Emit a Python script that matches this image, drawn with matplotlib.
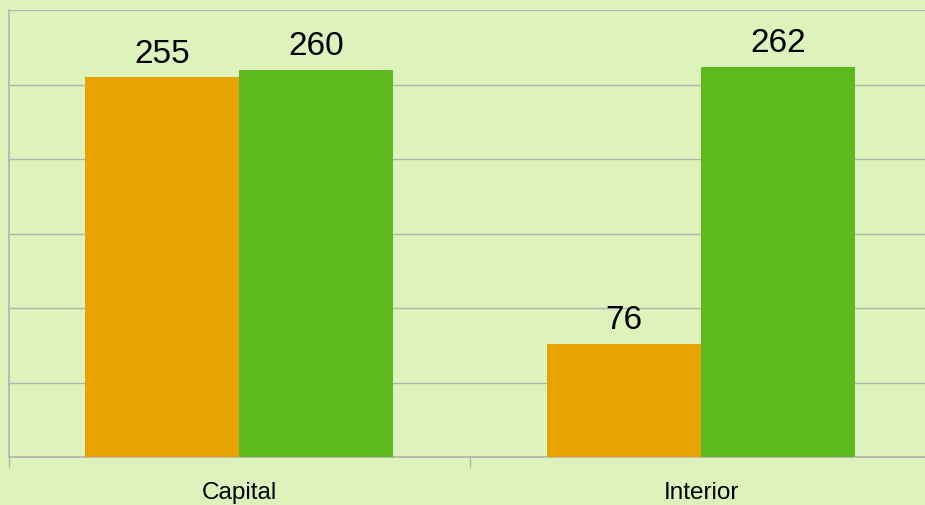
import matplotlib.pyplot as plt
import numpy as np

# data
categories = ["Capital", "Interior"]
series_a = [255, 76]
series_b = [260, 262]

bg = "#def2bc"
grid_col = "#b3b3b3"
col_a = "#e8a202"
col_b = "#5eb91f"

plt.rcParams["font.family"] = ["Liberation Sans", "DejaVu Sans"]

fig = plt.figure(figsize=(9.25, 5.06), dpi=100, facecolor=bg)
# axes runs off the right edge like the original
ax = fig.add_axes([8.5 / 925, 48 / 506, 923.5 / 925, 447 / 506])
ax.set_facecolor(bg)

x = np.arange(len(categories))
w = 1 / 3
bars_a = ax.bar(x - w / 2, series_a, w, color=col_a, zorder=3)
bars_b = ax.bar(x + w / 2, series_b, w, color=col_b, zorder=3)

for bars in (bars_a, bars_b):
    for b in bars:
        ax.annotate(f"{b.get_height():g}", (b.get_x() + b.get_width() / 2, b.get_height()),
                    xytext=(0, 6), textcoords="offset points",
                    ha="center", va="bottom", fontsize=24, color="black")

ax.set_xlim(-0.5, len(categories) - 0.5)
ax.set_ylim(0, 300)
ax.set_yticks(np.arange(0, 301, 50))
ax.yaxis.grid(True, color=grid_col, linewidth=1.0, zorder=0)
ax.tick_params(axis="y", length=0, labelleft=False)

ax.set_xticks(x)
ax.set_xticklabels(categories, fontsize=17.5)
ax.set_xticks(np.arange(-0.5, len(categories), 1), minor=True)
ax.tick_params(axis="x", which="major", length=0, pad=17)
ax.tick_params(axis="x", which="minor", length=7, width=1.0, color=grid_col)

for s in ["top", "right"]:
    ax.spines[s].set_visible(False)
for s in ["left", "bottom"]:
    ax.spines[s].set_color(grid_col)
    ax.spines[s].set_linewidth(1.2)

fig.savefig("out.png", dpi=100, facecolor=bg)
